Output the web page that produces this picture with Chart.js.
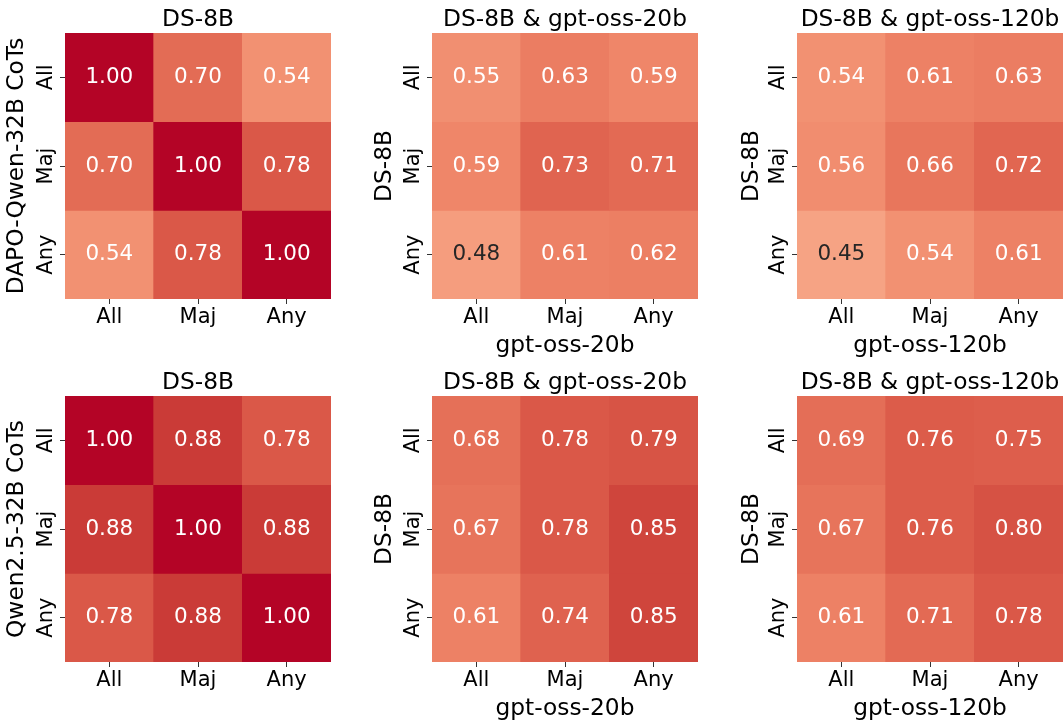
<!DOCTYPE html>
<html>
<head>
<meta charset="utf-8">
<script src="https://cdn.jsdelivr.net/npm/chart.js@4/dist/chart.umd.min.js"></script>
<style>
  html, body { margin: 0; padding: 0; background: #ffffff; }
  #fig { position: relative; width: 1063px; height: 721px; overflow: hidden; background: #ffffff; }
  .panel { position: absolute; }
</style>
</head>
<body>
<div id="fig"></div>
<script>
// Agreement levels on both axes
const levels = ['All', 'Maj', 'Any'];

// Panel texts, left-to-right, top-to-bottom
const panelTitles = ['DS-8B', 'DS-8B & gpt-oss-20b', 'DS-8B & gpt-oss-120b',
                     'DS-8B', 'DS-8B & gpt-oss-20b', 'DS-8B & gpt-oss-120b'];
const rowAxisTitles = ['DAPO-Qwen-32B CoTs', 'DS-8B', 'DS-8B',
                       'Qwen2.5-32B CoTs', 'DS-8B', 'DS-8B'];
const colAxisTitles = ['', 'gpt-oss-20b', 'gpt-oss-120b',
                       '', 'gpt-oss-20b', 'gpt-oss-120b'];

// Overlap matrices (rows = DS-8B level, cols = partner level)
const dapoSelf   = [[1.00, 0.70, 0.54], [0.70, 1.00, 0.78], [0.54, 0.78, 1.00]];
const dapoOss20  = [[0.55, 0.63, 0.59], [0.59, 0.73, 0.71], [0.48, 0.61, 0.62]];
const dapoOss120 = [[0.54, 0.61, 0.63], [0.56, 0.66, 0.72], [0.45, 0.54, 0.61]];
const qwenSelf   = [[1.00, 0.88, 0.78], [0.88, 1.00, 0.88], [0.78, 0.88, 1.00]];
const qwenOss20  = [[0.68, 0.78, 0.79], [0.67, 0.78, 0.85], [0.61, 0.74, 0.85]];
const qwenOss120 = [[0.69, 0.76, 0.75], [0.67, 0.76, 0.80], [0.61, 0.71, 0.78]];

const matrices = [dapoSelf, dapoOss20, dapoOss120, qwenSelf, qwenOss20, qwenOss120];

// ---- colour map (diverging blue-white-red, centred at 0, range [-1, 1]) ----
const COOLWARM = [
  [59,76,192],[68,90,204],[77,104,215],[87,117,225],[98,130,234],[108,142,241],
  [119,154,247],[130,165,251],[141,176,254],[152,185,255],[163,194,255],[174,201,253],
  [184,208,249],[194,213,244],[204,217,238],[213,219,230],[221,221,221],[229,216,209],
  [236,211,197],[241,204,185],[245,196,173],[247,187,160],[247,177,148],[247,166,135],
  [244,154,123],[241,141,111],[236,127,99],[229,112,88],[222,96,77],[213,80,66],
  [203,62,56],[192,40,47],[180,4,38]
];
const VMIN = -1, VMAX = 1;

function coolwarmRGB(t) {
  t = Math.min(1, Math.max(0, t));
  const q = Math.min(255, Math.floor(t * 256)) / 255;
  const p = q * (COOLWARM.length - 1);
  const i = Math.min(COOLWARM.length - 2, Math.floor(p));
  const f = p - i;
  return COOLWARM[i].map((c, k) => Math.round(c + (COOLWARM[i + 1][k] - c) * f));
}
function cellRGB(v) { return coolwarmRGB((v - VMIN) / (VMAX - VMIN)); }
function rgbStr(c) { return 'rgb(' + c[0] + ',' + c[1] + ',' + c[2] + ')'; }
function luminance(c) {
  const lin = c.map(x => { x /= 255; return x <= 0.03928 ? x / 12.92 : Math.pow((x + 0.055) / 1.055, 2.4); });
  return 0.2126 * lin[0] + 0.7152 * lin[1] + 0.0722 * lin[2];
}

// ---- layout ----
const FONT = "'DejaVu Sans', sans-serif";
const AREA = 266;      // heatmap side
const AXIS_W = 65;     // room for row labels
const TOP_H = 33;      // room for the panel title
const BOTTOM_H = 60;   // room for column labels
const areaLefts = [65, 432, 797];
const areaTops = [33, 396];
const rowTitlePads = [5.2, 6.3, 8.0, 5.6, 6.3, 8.0];

const tickFont = { family: FONT, size: 21, lineHeight: 1 };
const labelFont = { family: FONT, size: 23.3, lineHeight: 1 };
const CELL_FONT_PX = 21.5;

// writes each cell's value in its centre
const cellLabels = {
  id: 'cellLabels',
  afterDatasetsDraw(chart) {
    const ctx = chart.ctx;
    ctx.save();
    ctx.font = CELL_FONT_PX + 'px ' + FONT;
    ctx.textAlign = 'center';
    ctx.textBaseline = 'middle';
    chart.data.datasets.forEach((ds, di) => {
      const meta = chart.getDatasetMeta(di);
      meta.data.forEach((bar, ci) => {
        const v = ds.cellValues[ci];
        const c = cellRGB(v);
        ctx.fillStyle = luminance(c) > 0.408 ? '#262626' : '#ffffff';
        const p = bar.getCenterPoint();
        ctx.fillText(v.toFixed(2), p.x, p.y);
      });
    });
    ctx.restore();
  }
};

function makePanel(idx) {
  const col = idx % 3, row = Math.floor(idx / 3);
  const values = matrices[idx];
  const div = document.createElement('div');
  div.className = 'panel';
  const W = AXIS_W + AREA, H = TOP_H + AREA + BOTTOM_H;
  div.style.left = (areaLefts[col] - AXIS_W) + 'px';
  div.style.top = (areaTops[row] - TOP_H) + 'px';
  div.style.width = W + 'px';
  div.style.height = H + 'px';
  const canvas = document.createElement('canvas');
  canvas.width = W; canvas.height = H;
  canvas.style.width = W + 'px'; canvas.style.height = H + 'px';
  div.appendChild(canvas);
  document.getElementById('fig').appendChild(div);

  const datasets = values.map((rowVals, r) => ({
    label: levels[r],
    data: rowVals.map(() => [r, r + 1]),
    cellValues: rowVals,
    backgroundColor: rowVals.map(v => rgbStr(cellRGB(v))),
    xAxisID: 'x',
    yAxisID: 'y',
    grouped: false,
    barPercentage: 1,
    categoryPercentage: 1,
    borderWidth: 0,
    borderRadius: 0
  }));

  const tickGrid = { offset: false, drawOnChartArea: false, drawTicks: true, tickLength: 5, tickColor: '#333333', tickWidth: 1 };

  new Chart(canvas, {
    type: 'bar',
    data: { labels: levels, datasets },
    options: {
      responsive: false,
      devicePixelRatio: 1,
      animation: false,
      layout: { padding: 0 },
      plugins: { legend: { display: false }, tooltip: { enabled: false }, title: { display: false } },
      scales: {
        x: {
          type: 'category', position: 'bottom', offset: true,
          grid: tickGrid,
          border: { display: false },
          ticks: { font: tickFont, color: '#000000', padding: 2.6, maxRotation: 0, autoSkip: false },
          title: { display: colAxisTitles[idx] !== '', text: colAxisTitles[idx], font: labelFont, color: '#000000', padding: { top: 0, bottom: 1.3 } },
          afterFit: s => { s.height = BOTTOM_H; }
        },
        head: {
          type: 'category', position: 'top', offset: true,
          grid: { display: false },
          border: { display: false },
          ticks: { display: false },
          title: { display: true, text: panelTitles[idx], font: labelFont, color: '#000000', padding: { top: 7.8, bottom: 0 } },
          afterFit: s => { s.height = TOP_H; }
        },
        y: {
          type: 'linear', position: 'left', min: 0, max: 3, reverse: true,
          afterBuildTicks: s => { s.ticks = [0.5, 1.5, 2.5].map(v => ({ value: v })); },
          grid: tickGrid,
          border: { display: false },
          ticks: { font: tickFont, color: '#000000', minRotation: 90, maxRotation: 90, crossAlign: 'center', padding: -6.5,
                   callback: (v, i) => levels[i] },
          title: { display: true, text: rowAxisTitles[idx], font: labelFont, color: '#000000', padding: { top: rowTitlePads[idx], bottom: 0 } },
          afterFit: s => { s.width = AXIS_W; }
        }
      }
    },
    plugins: [cellLabels]
  });
}

for (let i = 0; i < 6; i++) makePanel(i);
</script>
</body>
</html>
